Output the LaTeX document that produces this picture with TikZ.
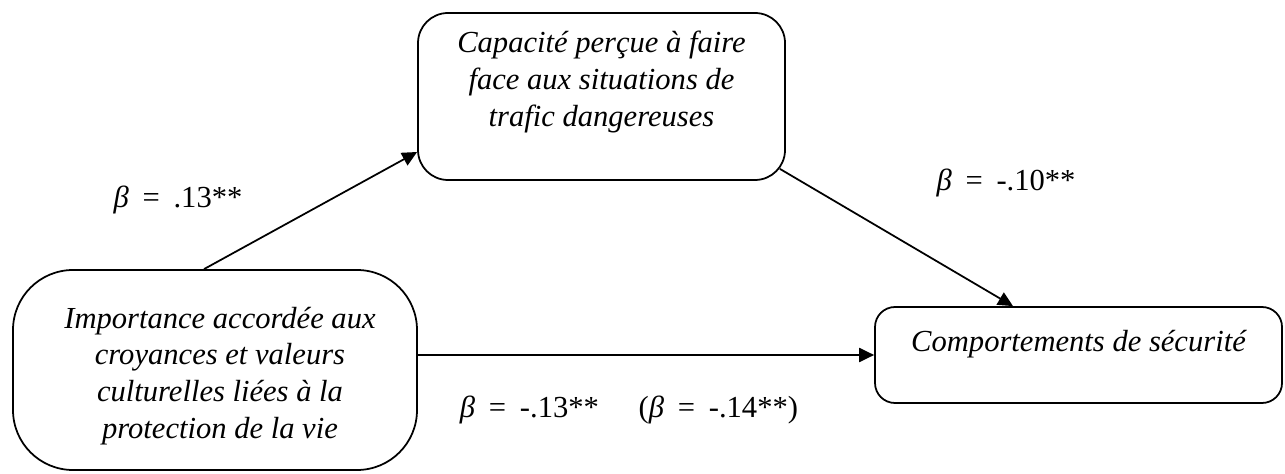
\documentclass[tikz,border=0pt]{standalone}
\usepackage{fontspec}
\setmainfont{Liberation Serif}
\usepackage{tikz}
\usetikzlibrary{arrows.meta, positioning, calc}
\newcommand{\eqsp}{\hspace{0.45em}=\hspace{0.45em}}
\tikzset{varbox/.style={rectangle,draw,line width=1pt,align=center},
         vartext/.style={align=center,font=\fontsize{17.4}{21}\selectfont\itshape,inner sep=0pt},
         coef/.style={font=\fontsize{17.4}{21}\selectfont,inner sep=0pt},
         arrow/.style={-{Triangle[length=8.5pt,width=8pt]},line width=1pt}}

\begin{document}
\begin{tikzpicture}
    \useasboundingbox (0,0) rectangle (25.7,-9.48);
    \node (imp) [varbox, rounded corners=1.2cm, minimum width=8.08cm, minimum height=4.0cm] at (4.30,-7.4) {};
    \node (cap) [varbox, rounded corners=0.6cm, minimum width=7.34cm, minimum height=3.34cm] at (12.03,-1.93) {};
    \node (comp) [varbox, rounded corners=0.4cm, minimum width=8.14cm, minimum height=1.92cm] at (21.57,-7.1) {};
    \node (imptxt) [vartext] at (4.40,-7.52) {Importance accordée aux\\croyances et valeurs\\culturelles liées à la\\protection de la vie};
    \node (captxt) [vartext] at (12.03,-1.64) {Capacité perçue à faire\\face aux situations de\\trafic dangereuses};
    \node (comptxt) [vartext] at (21.57,-6.88) {Comportements de sécurité};
    \node (b1) [coef] at (3.56,-4.0) {{\itshape β}\eqsp.13**};
    \node (b2) [coef] at (20.12,-3.66) {{\itshape β}\eqsp-.10**};
    \node (b3) [coef] at (12.58,-8.2) {{\itshape β}\eqsp-.13**\hspace{1.3em}({\itshape β}\eqsp-.14**)};
    \draw[arrow] ($(imp.north)+(-0.22,0)$) -- (cap.west |- 0,-3.04);
    \draw[arrow] ($(cap.south east)+(-0.12,0.24)$) -- ($(comp.north)+(-1.31,0)$);
    \draw[arrow] (imp.east |- comp.west) -- (comp.west);
  \end{tikzpicture}
\end{document}
